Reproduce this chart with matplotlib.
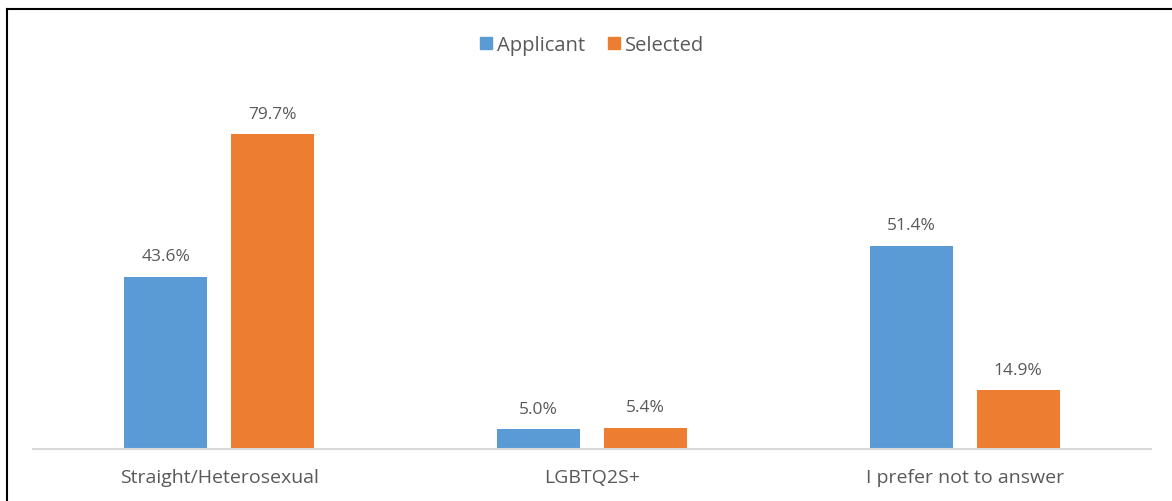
import numpy as np
import matplotlib.pyplot as plt
from matplotlib.lines import Line2D
from matplotlib.patches import Patch

# data
categories = ['Straight/Heterosexual', 'LGBTQ2S+', 'I prefer not to answer']
applicant = [43.6, 5.0, 51.4]
selected = [79.7, 5.4, 14.9]
series_names = ['Applicant', 'Selected']

BLUE = '#5B9BD5'
ORANGE = '#ED7D31'
GREY = '#595959'

plt.rcParams['font.family'] = ['Open Sans', 'DejaVu Sans']

fig = plt.figure(figsize=(11.72, 5.02), dpi=100)
# axes: x 33..1151 px, baseline at y=450 px, top at y=55
ax = fig.add_axes([33 / 1172, (502 - 450) / 502, 1118 / 1172, 395 / 502])

x = np.arange(len(categories))
w = 83 / 372.7
gap = 24 / 372.7
b1 = ax.bar(x - (w + gap) / 2, applicant, w, color=BLUE, label=series_names[0])
b2 = ax.bar(x + (w + gap) / 2, selected, w, color=ORANGE, label=series_names[1])

for bars, vals in ((b1, applicant), (b2, selected)):
    for r, v in zip(bars, vals):
        ax.annotate(f'{v:.1f}%', (r.get_x() + r.get_width() / 2, v),
                    xytext=(0, 9), textcoords='offset points',
                    ha='center', va='bottom', fontsize=12.5, color=GREY)

ax.set_xlim(-0.5, 2.5)
ax.set_ylim(0, 395 / 3.952)
ax.set_xticks(x)
ax.set_xticklabels(categories, fontsize=14, color=GREY)
ax.tick_params(axis='x', length=0, pad=14)
ax.set_yticks([])
for s in ['top', 'right', 'left']:
    ax.spines[s].set_visible(False)
ax.spines['bottom'].set_color('#D9D9D9')
ax.spines['bottom'].set_linewidth(1.5)

handles = [Patch(color=BLUE), Patch(color=ORANGE)]
fig.legend(handles, series_names, loc='center', bbox_to_anchor=(592 / 1172, 1 - 46 / 502),
           ncol=2, frameon=False, fontsize=14.5, handlelength=0.6, handleheight=0.6,
           handletextpad=0.25, columnspacing=1.1, labelcolor=GREY)

# partial frame border (top and left edges visible)
fig.add_artist(Line2D([6.5 / 1172, 6.5 / 1172], [0, 1 - 9.5 / 502], transform=fig.transFigure,
                      color='black', linewidth=1.5))
fig.add_artist(Line2D([6.5 / 1172, 1], [1 - 9.5 / 502, 1 - 9.5 / 502], transform=fig.transFigure,
                      color='black', linewidth=1.5))

fig.savefig('out.png', dpi=100)
